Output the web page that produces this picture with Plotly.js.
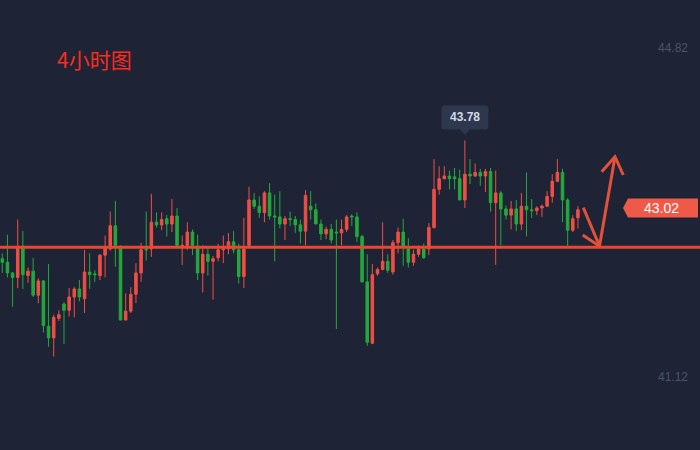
<!DOCTYPE html>
<html><head><meta charset="utf-8">
<script src="https://cdn.plot.ly/plotly-3.0.1.min.js"></script>
<style>html,body{margin:0;padding:0;background:#1e2435;}#chart{width:700px;height:450px;}</style>
</head><body><div id="chart"></div>
<script>
const openP = [42.45,42.41,42.29,42.24,42.59,42.26,42.31,42.04,42.20,41.69,
41.56,41.78,41.94,41.87,42.02,42.11,42.00,42.30,42.28,42.26,
42.49,42.56,42.82,42.59,41.76,41.86,42.05,42.29,42.56,42.56,
42.86,42.83,42.90,42.84,42.93,42.59,42.60,42.75,42.59,42.29,
42.50,42.42,42.46,42.55,42.56,42.64,42.55,42.25,42.60,43.11,
43.04,42.97,43.19,42.93,42.92,42.84,42.90,42.89,42.83,42.76,
43.04,43.00,42.84,42.73,42.78,42.75,42.74,42.78,42.93,42.92,
42.70,42.19,41.50,42.28,42.33,42.42,42.30,42.63,42.75,42.56,
42.41,42.50,42.56,42.56,42.80,43.23,43.35,43.38,43.37,43.35,
43.11,43.40,43.38,43.42,43.38,43.43,43.08,43.19,43.01,42.94,
43.01,42.84,43.04,43.00,42.99,43.02,43.04,43.15,43.32,43.42,
43.11,42.77,42.91];
const highP = [42.51,42.72,42.30,42.89,42.76,42.35,42.46,42.23,42.21,42.39,
41.82,41.87,41.96,42.12,42.13,42.21,42.55,42.51,42.32,42.50,
42.71,42.98,43.10,42.60,42.06,42.13,42.40,42.63,42.98,43.18,
42.97,42.97,42.94,43.12,43.02,42.71,42.86,42.78,42.72,42.60,
42.57,42.48,42.62,42.71,42.74,42.76,42.62,42.91,43.26,43.19,
43.15,43.21,43.30,43.17,43.21,42.93,42.98,42.93,42.89,43.22,
43.21,43.07,42.89,42.81,42.84,42.89,42.89,42.94,42.95,42.97,
42.72,42.50,42.39,42.35,42.86,42.50,42.66,42.80,42.90,42.68,
42.55,42.60,42.62,42.85,43.57,43.49,43.49,43.44,43.47,43.45,
43.78,43.57,43.52,43.46,43.46,43.47,43.44,43.21,43.05,43.10,
43.11,43.19,43.42,43.12,43.04,43.06,43.21,43.40,43.57,43.46,
43.13,42.94,43.04];
const lowP = [42.29,42.24,41.91,42.12,42.11,42.18,42.02,41.95,41.62,41.46,
41.35,41.75,41.49,41.80,41.79,41.97,41.84,42.11,42.19,42.21,
42.24,42.54,42.36,41.76,41.76,41.84,41.95,42.19,42.43,42.47,
42.80,42.77,42.70,42.75,42.59,42.38,42.55,42.49,42.21,42.07,
42.26,41.99,42.42,42.40,42.50,42.51,42.17,42.12,42.59,43.01,
42.91,42.86,42.89,42.42,42.79,42.66,42.82,42.74,42.62,42.60,
42.89,42.84,42.66,42.67,42.62,41.66,42.60,42.75,42.82,42.64,
42.18,41.47,41.49,42.26,42.32,42.29,42.27,42.51,42.37,42.35,
42.37,42.47,42.45,42.49,42.79,43.17,43.34,43.23,43.23,43.11,
43.02,43.29,43.37,43.27,43.20,42.98,42.38,42.60,42.89,42.78,
42.76,42.77,42.70,42.91,42.94,42.92,43.04,43.08,43.31,42.86,
42.59,42.75,42.79];
const closeP = [42.41,42.29,42.24,42.58,42.27,42.31,42.04,42.20,41.70,41.56,
41.79,41.82,41.87,42.02,42.11,42.02,42.30,42.27,42.27,42.49,
42.57,42.82,42.60,41.76,41.86,42.05,42.29,42.55,42.55,42.86,
42.83,42.89,42.84,42.93,42.60,42.60,42.75,42.60,42.29,42.50,
42.42,42.45,42.55,42.56,42.64,42.55,42.25,42.56,43.11,43.04,
42.97,43.19,42.93,42.92,42.84,42.90,42.89,42.83,42.76,43.16,
43.00,42.84,42.73,42.78,42.66,42.74,42.78,42.92,42.92,42.70,
42.19,41.51,42.27,42.33,42.42,42.32,42.63,42.75,42.59,42.41,
42.50,42.56,42.46,42.80,43.23,43.35,43.38,43.35,43.35,43.11,
43.40,43.38,43.42,43.38,43.43,43.08,43.19,43.01,42.94,43.01,
42.84,43.04,43.00,42.99,43.02,43.04,43.15,43.32,43.42,43.11,
42.77,42.90,43.00];
const axisTicks = [41.12, 44.82];
const supportLevel = 42.58;
const peakIndex = 90;
const peakValue = 43.78;
const lastPrice = 43.02;
const titleText = '4小时图';

const idx = openP.map((_, i) => i);
const W = 700, H = 450;
const px = x => x / W;
const py = y => 1 - y / H;

const UP = '#f04e45', DOWN = '#25a83b', BG = '#1e2435', LINE = '#e8482c';

const trace = {
  type: 'candlestick', x: idx, open: openP, high: highP, low: lowP, close: closeP,
  increasing: {line: {color: UP, width: 1}, fillcolor: UP},
  decreasing: {line: {color: DOWN, width: 1}, fillcolor: DOWN},
  whiskerwidth: 0, hoverinfo: 'skip', showlegend: false
};

function pathFromPx(pts) {
  return 'M' + pts.map(p => px(p[0]).toFixed(5) + ',' + py(p[1]).toFixed(5)).join(' L');
}

const layout = {
  width: W, height: H,
  margin: {l: 0, r: 0, t: 0, b: 0},
  paper_bgcolor: BG, plot_bgcolor: BG,
  showlegend: false,
  boxgap: 0.3,
  title: {text: titleText, x: px(57), xanchor: 'left', y: py(61), yanchor: 'middle',
          font: {family: '"Noto Sans CJK SC", sans-serif', size: 21, color: '#ff2a1a'}},
  xaxis: {range: [-0.45, 135.75], showgrid: false, zeroline: false, showticklabels: false,
          showline: false, ticks: '', rangeslider: {visible: false}, fixedrange: true},
  yaxis: {range: [40.299, 45.359], side: 'right', showgrid: false, zeroline: false,
          showline: false, ticks: '', tickvals: axisTicks, ticktext: axisTicks.map(v => v.toFixed(2)),
          ticklabelposition: 'inside', ticklabelstandoff: 9,
          tickfont: {family: '"Liberation Sans", Arial, sans-serif', size: 12, color: '#4a5469'},
          fixedrange: true},
  shapes: [
    {type: 'line', xref: 'paper', x0: 0, x1: 1, yref: 'y', y0: supportLevel, y1: supportLevel,
     line: {color: LINE, width: 3}, layer: 'above'},
    {type: 'path', xref: 'x', yref: 'y', xsizemode: 'pixel', ysizemode: 'pixel',
     xanchor: peakIndex, yanchor: peakValue,
     path: 'M-20.5,35 L20.5,35 Q23.5,35 23.5,32 L23.5,14 Q23.5,11 20.5,11 L5,11 L0,5.5 L-5,11 L-20.5,11 Q-23.5,11 -23.5,14 L-23.5,32 Q-23.5,35 -20.5,35 Z',
     fillcolor: '#2d384f', line: {width: 0}},
    {type: 'path', xref: 'paper', yref: 'y', xsizemode: 'pixel', ysizemode: 'pixel',
     xanchor: 1, yanchor: lastPrice,
     path: 'M-77,0 L-72,9.5 L-2,9.5 L-2,-9.5 L-72,-9.5 Z',
     fillcolor: '#ef5a48', line: {width: 0}},
    {type: 'path', xref: 'paper', yref: 'paper',
     path: pathFromPx([[583.3, 207.7], [599.5, 246]]), line: {color: '#e2513a', width: 3}},
    {type: 'path', xref: 'paper', yref: 'paper',
     path: pathFromPx([[582.7, 235], [599.3, 246]]), line: {color: '#e2513a', width: 3}},
    {type: 'path', xref: 'paper', yref: 'paper',
     path: pathFromPx([[599.5, 246], [615, 157]]), line: {color: '#e2513a', width: 3}},
    {type: 'path', xref: 'paper', yref: 'paper',
     path: pathFromPx([[601.7, 171.7], [615, 156.7], [623.3, 175]]), line: {color: '#e2513a', width: 3}}
  ],
  annotations: [
    {xref: 'x', yref: 'y', x: peakIndex, y: peakValue, yshift: 23, text: peakValue.toFixed(2),
     showarrow: false, xanchor: 'center', yanchor: 'middle',
     font: {family: '"Liberation Sans", Arial, sans-serif', size: 12, color: '#d4d9e2', weight: 'bold'}},
    {xref: 'paper', yref: 'y', x: 1, y: lastPrice, xshift: -39, text: lastPrice.toFixed(2),
     showarrow: false, xanchor: 'center', yanchor: 'middle',
     font: {family: '"Liberation Sans", Arial, sans-serif', size: 14, color: '#ffffff'}}
  ]
};

Plotly.newPlot('chart', [trace], layout, {displayModeBar: false, staticPlot: true});
</script>
</body></html>
